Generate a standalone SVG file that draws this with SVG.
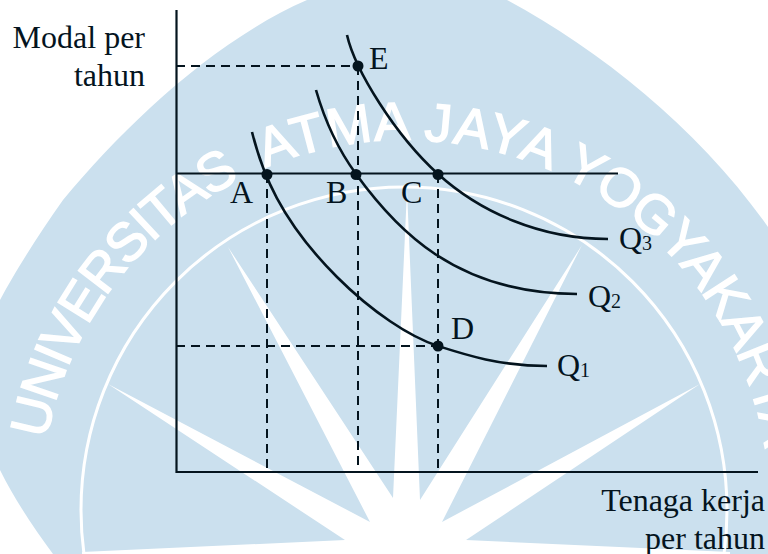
<svg xmlns="http://www.w3.org/2000/svg" width="768" height="554" viewBox="0 0 768 554">
<style>
.t{font-family:"Liberation Serif","Times New Roman",serif;font-size:32px;fill:#04141e}
.s{font-size:20px}
.e{text-anchor:end}
.ln{fill:none;stroke:#04141e;stroke-width:2.2}
.cv{fill:none;stroke:#04141e;stroke-width:2.6}
.d{fill:none;stroke:#04141e;stroke-width:2;stroke-dasharray:9 6}
.dot{fill:#04141e}
.wm{font-family:"Liberation Sans",Arial,sans-serif;font-size:54px;fill:#fff;stroke:#fff;stroke-width:1.5}
</style>
<defs><path id="wmArc" d="M41 504A364 364 0 0 1 769 504"/></defs>
<rect width="768" height="554" fill="#fff"/>
<g id="watermark">
<path fill="#cbe0ee" d="M307 0C215 40 125 125 63 200C40 232 15 272 0 300L-20 300L-20 470L0 470C15 500 35 530 53 554L53 560L790 560L790 240L768 227C700 130 600 50 507 0Z"/>
<circle cx="404" cy="510" r="323" fill="none" stroke="#fff" stroke-width="3"/>
<polygon fill="#fff" points="407,190 420,500 582,245 442,522 700,384 466,540 730,552 730,554 82,554 82,552 345,540 108,384 370,522 228,247 393,498"/>
<text class="wm"><textPath href="#wmArc" startOffset="65" letter-spacing="-2">UNIVERSITAS</textPath></text>
<text class="wm"><textPath href="#wmArc" startOffset="428" letter-spacing="1">ATMA</textPath></text>
<text class="wm"><textPath href="#wmArc" startOffset="590" letter-spacing="1.500">JAYA</textPath></text>
<text class="wm"><textPath href="#wmArc" startOffset="733" letter-spacing="-1">YOGYAKARTA</textPath></text>
</g>
<g id="connectors">
<path class="d" d="M176 66H358M358 66V471M267 174V471M438 174V471M176 346H438"/>
<path class="ln" d="M176.500 10V472H758M176 173.500H618"/>
<path class="cv" d="M252 132C262 172 280 220 337 277C372 312 410 337 438 346S500 366 547 366"/>
<path class="cv" d="M316 90C326 125 340 152 356 174C395 228 455 294 577 294"/>
<path class="cv" d="M347 35C355 70 395 135 438 174C480 212 540 239 608 239"/>
</g>
<g id="node-A"><circle class="dot" cx="267" cy="174.500" r="5.500"/><text class="t" x="230" y="203">A</text></g>
<g id="node-B"><circle class="dot" cx="356" cy="174.500" r="5.500"/><text class="t" x="326" y="203">B</text></g>
<g id="node-C"><circle class="dot" cx="438" cy="174.500" r="5.500"/><text class="t" x="401" y="203">C</text></g>
<g id="node-D"><circle class="dot" cx="438" cy="346" r="5.500"/><text class="t" x="451" y="339">D</text></g>
<g id="node-E"><circle class="dot" cx="358" cy="66" r="5.500"/><text class="t" x="369" y="69">E</text></g>
<g id="label-Q1"><text class="t" x="557" y="376">Q<tspan class="s" dy="1">1</tspan></text></g>
<g id="label-Q2"><text class="t" x="588" y="307">Q<tspan class="s" dy="1">2</tspan></text></g>
<g id="label-Q3"><text class="t" x="619" y="249">Q<tspan class="s" dy="1">3</tspan></text></g>
<g id="label-y"><text class="t e" x="145" y="48">Modal per</text><text class="t e" x="145" y="86">tahun</text></g>
<g id="label-x"><text class="t e" x="765" y="511">Tenaga kerja</text><text class="t e" x="765" y="549">per tahun</text></g>
</svg>
